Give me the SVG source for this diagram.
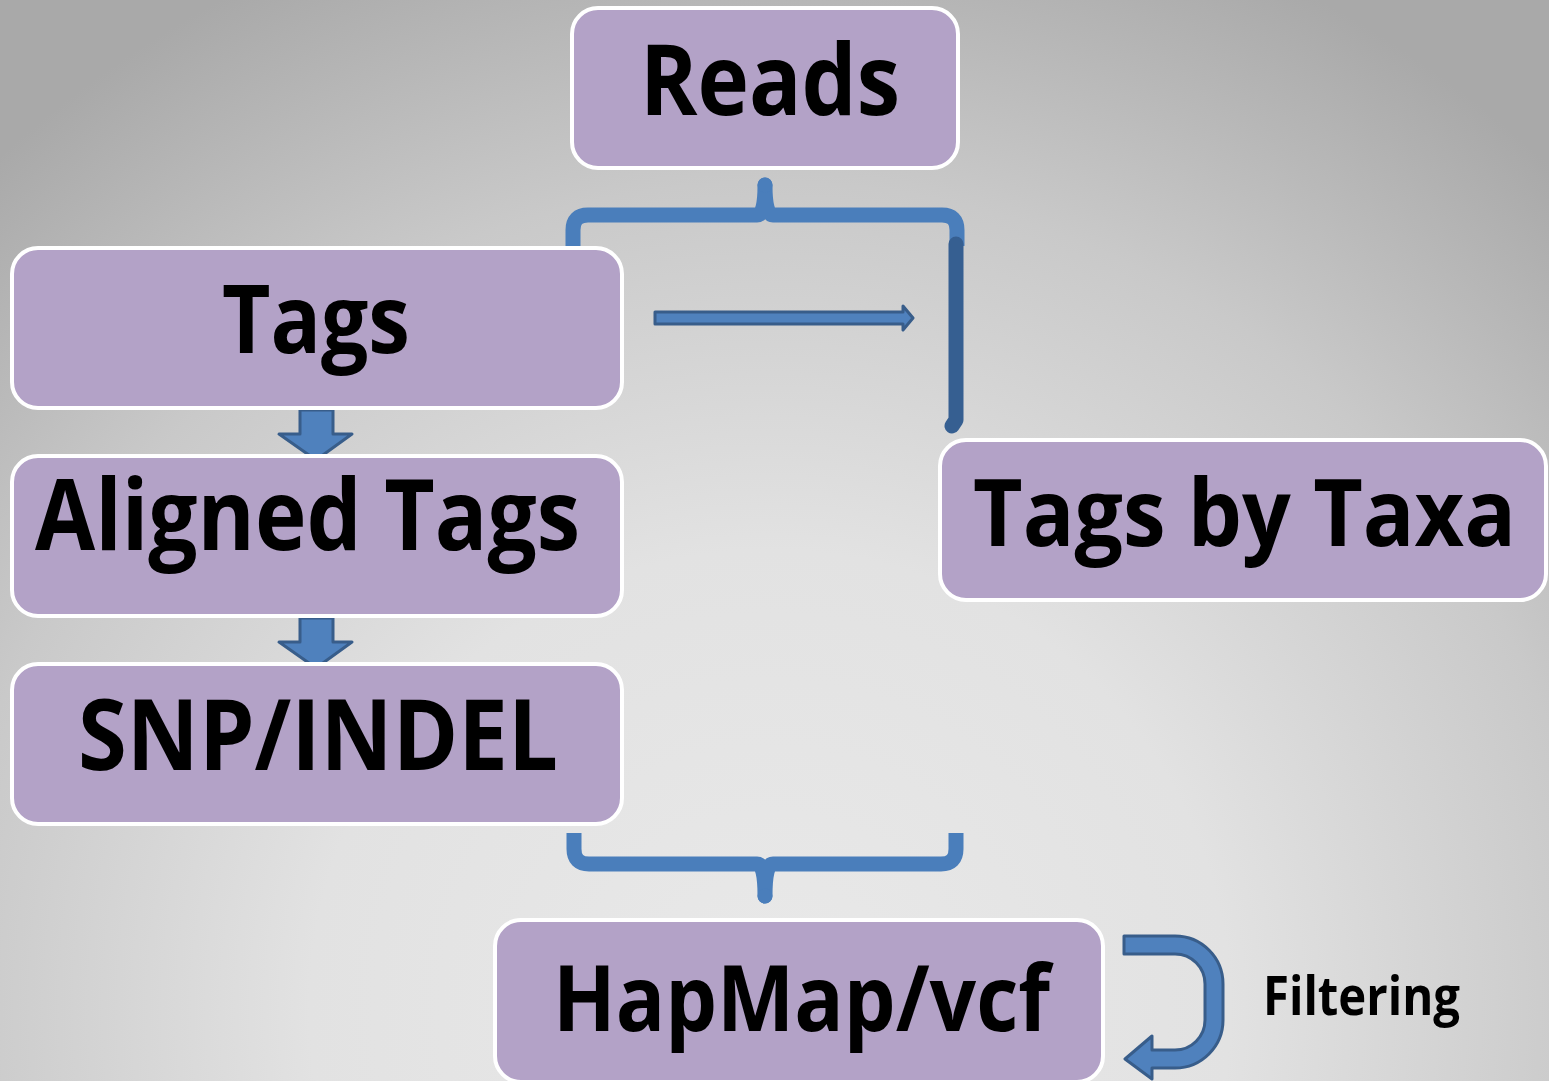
<svg xmlns="http://www.w3.org/2000/svg" width="1549" height="1081" viewBox="0 0 1549 1081">
  <defs>
    <radialGradient id="bg" gradientUnits="userSpaceOnUse" cx="770" cy="1010" r="1150">
      <stop offset="0" stop-color="#e9e9e9"/>
      <stop offset="0.4" stop-color="#e2e2e2"/>
      <stop offset="0.72" stop-color="#c9c9c9"/>
      <stop offset="1" stop-color="#a9a9a9"/>
    </radialGradient>
  </defs>
  <style>
    .box { fill: #b3a2c7; stroke: #ffffff; stroke-width: 4; }
    .label { font-family: "Open Sans", "Liberation Sans", sans-serif; font-weight: bold; fill: #000000; }
    .brace { fill: none; stroke: #4a7ebb; stroke-width: 15; stroke-linecap: butt; stroke-linejoin: round; }
    .block { fill: #4f81bd; stroke: #385d8a; stroke-width: 3; stroke-linejoin: round; }
  </style>

  <rect width="1549" height="1081" fill="url(#bg)"/>

  <g id="connectors">
    <!-- brace splitting Reads into two branches -->
    <path class="brace" d="M573,246 L573,230 Q573,215 588,215 L757,215 Q765,215 765,185 Q765,215 773,215 L942,215 Q957,215 957,230 L957,246"/>
    <circle cx="765" cy="185" r="7.5" fill="#4a7ebb"/>
    <!-- branch down to Tags by Taxa -->
    <path d="M956,244 L956,420 L952,426" fill="none" stroke="#365f91" stroke-width="15" stroke-linecap="round" stroke-linejoin="round"/>
    <!-- Tags to Tags by Taxa -->
    <path class="block" d="M655,312 L903,312 L903,306 L913,318 L903,330 L903,324 L655,324 Z"/>
    <!-- Tags to Aligned Tags -->
    <path class="block" d="M300,410 L333,410 L333,434 L352,434 L316,460 L279,434 L300,434 Z"/>
    <!-- Aligned Tags to SNP/INDEL -->
    <path class="block" d="M300,618 L333,618 L333,642 L352,642 L316,668 L279,642 L300,642 Z"/>
    <!-- brace joining both branches into HapMap/vcf -->
    <path class="brace" d="M574,833 L574,849 Q574,864 589,864 L757,864 Q765,864 765,896 Q765,864 773,864 L941,864 Q956,864 956,849 L956,833"/>
    <circle cx="765" cy="896" r="7.5" fill="#4a7ebb"/>
    <!-- filtering loop -->
    <path class="block" d="M1124,936 L1175,936 A48,48 0 0 1 1223,984 L1223,1020 A48,48 0 0 1 1175,1068 L1152,1068 L1152,1079 L1125,1059 L1152,1036 L1152,1050 L1175,1050 A30,30 0 0 0 1205,1020 L1205,984 A30,30 0 0 0 1175,954 L1124,954 Z"/>
  </g>

  <g id="node-reads">
    <rect class="box" x="572" y="8" width="386" height="160" rx="26"/>
    <text class="label" x="640" y="115" font-size="98" textLength="260" lengthAdjust="spacingAndGlyphs">Reads</text>
  </g>

  <g id="node-tags">
    <rect class="box" x="12" y="248" width="610" height="160" rx="26"/>
    <text class="label" x="222" y="353" font-size="95" textLength="188" lengthAdjust="spacingAndGlyphs">Tags</text>
  </g>

  <g id="node-aligned-tags">
    <rect class="box" x="12" y="456" width="610" height="160" rx="26"/>
    <text class="label" x="35" y="550" font-size="98" textLength="545" lengthAdjust="spacingAndGlyphs">Aligned Tags</text>
  </g>

  <g id="node-snp-indel">
    <rect class="box" x="12" y="664" width="610" height="160" rx="26"/>
    <text class="label" x="78" y="770" font-size="98" textLength="480" lengthAdjust="spacingAndGlyphs">SNP/INDEL</text>
  </g>

  <g id="node-tags-by-taxa">
    <rect class="box" x="940" y="440" width="606" height="160" rx="26"/>
    <text class="label" x="973" y="546" font-size="94" textLength="543" lengthAdjust="spacingAndGlyphs">Tags by Taxa</text>
  </g>

  <g id="node-hapmap">
    <rect class="box" x="495" y="920" width="608" height="162" rx="26"/>
    <text class="label" x="553" y="1031" font-size="92" textLength="497" lengthAdjust="spacingAndGlyphs">HapMap/vcf</text>
  </g>

  <g id="label-filtering">
    <text class="label" x="1263" y="1015" font-size="54" textLength="197" lengthAdjust="spacingAndGlyphs">Filtering</text>
  </g>
</svg>
